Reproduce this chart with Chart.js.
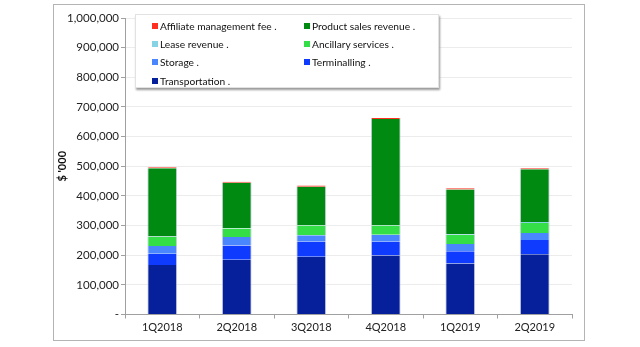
<!DOCTYPE html>
<html lang="en">
<head>
    <meta charset="UTF-8">
    <title>Revenue by segment</title>
    <style>
        body {
            margin: 0;
            background-color: #fff;
            font-family: Lato, "Open Sans", sans-serif;
        }
        .frame {
            position: absolute;
            left: 53px;
            top: 4px;
            width: 532px;
            height: 337px;
            border: 1px solid #b4b4b4;
            box-sizing: border-box;
        }
        .legend {
            position: absolute;
            left: 135px;
            top: 14px;
            width: 304px;
            height: 74px;
            box-sizing: border-box;
            background: #fff;
            border: 1px solid #e2e2e2;
            box-shadow: 1px 2px 2px #9a9a9a;
            padding: 2px 0 0 16px;
            display: grid;
            grid-template-columns: 152px 136px;
            grid-auto-rows: 18.2px;
            font-size: 10.2px;
            color: #111;
        }
        .legend span.item {
            display: flex;
            align-items: center;
            white-space: nowrap;
        }
        .legend i {
            display: inline-block;
            width: 6px;
            height: 6px;
            margin-right: 2px;
        }
    </style>
    <script src="https://cdn.jsdelivr.net/npm/chart.js@4/dist/chart.umd.min.js"></script>
</head>
<body>
    <div class="frame">
        <canvas id="chart"></canvas>
    </div>
    <div class="legend" id="legend"></div>

    <script>
        // quarters
        const labels = ['1Q2018', '2Q2018', '3Q2018', '4Q2018', '1Q2019', '2Q2019'];

        // values in $'000, stacked bottom to top
        const transportation = [167000, 185000, 195000, 199000, 172000, 203000];
        const terminalling   = [38000, 48000, 50000, 46000, 41000, 48000];
        const storage        = [26000, 28000, 22000, 24000, 25000, 24000];
        const ancillary      = [30000, 29000, 33000, 31000, 30000, 34000];
        const lease          = [2000, 2000, 2000, 2000, 3000, 3000];
        const productSales   = [230000, 152000, 129000, 357000, 151000, 178000];
        const affiliate      = [4000, 4000, 4000, 4000, 4000, 3000];

        const yMax = 1000000;
        const yStep = 100000;

        const series = [
            { label: 'Transportation .', data: transportation, color: '#06209c' },
            { label: 'Terminalling .', data: terminalling, color: '#0f3bff' },
            { label: 'Storage .', data: storage, color: '#4a87ff' },
            { label: 'Ancillary services .', data: ancillary, color: '#33de46' },
            { label: 'Lease revenue .', data: lease, color: '#86d3e6' },
            { label: 'Product sales revenue .', data: productSales, color: '#008a12' },
            { label: 'Affiliate management fee .', data: affiliate, color: '#ff3020' }
        ];

        const font = { family: 'Lato, "Open Sans", sans-serif', size: 11 };

        const ctx = document.getElementById('chart').getContext('2d');
        const chart = new Chart(ctx, {
            type: 'bar',
            data: {
                labels: labels,
                datasets: series.map(s => ({
                    label: s.label,
                    data: s.data,
                    backgroundColor: s.color,
                    borderColor: 'rgba(190,195,215,0.8)',
                    borderWidth: { left: 1, right: 1, top: 0, bottom: 0 },
                    borderSkipped: false,
                    barPercentage: 0.4,
                    categoryPercentage: 1
                }))
            },
            options: {
                responsive: true,
                maintainAspectRatio: false,
                animation: false,
                layout: { padding: { top: 13, right: 12, left: 0, bottom: 0 } },
                plugins: {
                    legend: { display: false },
                    tooltip: { enabled: false }
                },
                scales: {
                    x: {
                        stacked: true,
                        grid: {
                            offset: true,
                            drawOnChartArea: false,
                            drawTicks: true,
                            tickLength: 4,
                            tickColor: '#a0a0a0'
                        },
                        border: { color: '#a0a0a0' },
                        ticks: { color: '#222', font: font, padding: 2 },
                        afterFit: scale => { scale.height = 25.5; }
                    },
                    y: {
                        stacked: true,
                        min: 0,
                        max: yMax,
                        grid: {
                            color: '#ececec',
                            tickColor: '#a0a0a0',
                            tickLength: 4
                        },
                        border: { color: '#a0a0a0' },
                        ticks: {
                            stepSize: yStep,
                            color: '#222',
                            font: { family: font.family, size: 11.5 },
                            padding: 2,
                            callback: v => v === 0 ? '-' : v.toLocaleString('en-US')
                        },
                        title: {
                            display: true,
                            text: "$ '000",
                            color: '#111',
                            font: { family: font.family, size: 11, weight: 'bold' },
                            padding: { top: 2, bottom: 0 }
                        },
                        afterFit: scale => { scale.width = 71; }
                    }
                }
            }
        });

        // legend in two columns, top of stack first
        const legend = document.getElementById('legend');
        series.slice().reverse().forEach(s => {
            const item = document.createElement('span');
            item.className = 'item';
            const box = document.createElement('i');
            box.style.background = s.color;
            item.appendChild(box);
            item.appendChild(document.createTextNode(s.label));
            legend.appendChild(item);
        });
    </script>
</body>
</html>
